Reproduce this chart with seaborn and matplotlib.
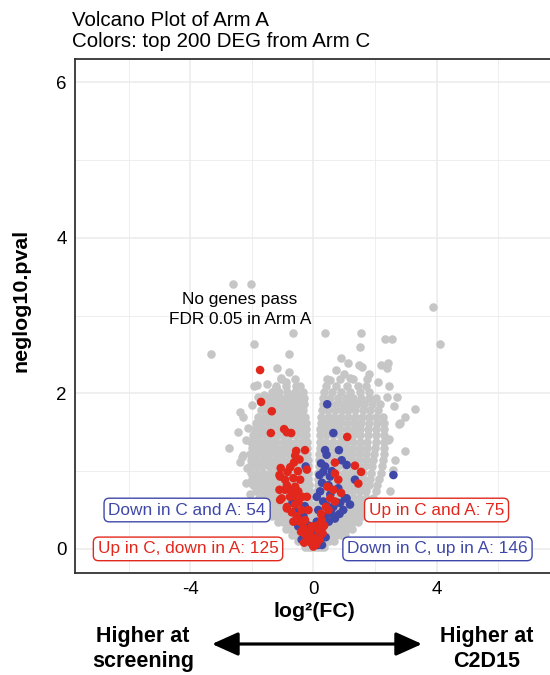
import matplotlib
matplotlib.use("Agg")
import matplotlib.pyplot as plt
import pandas as pd
import seaborn as sns
from matplotlib.patches import FancyArrowPatch
from matplotlib.ticker import FixedLocator

# ---------------- data ----------------
title_lines = ["Volcano Plot of Arm A", "Colors: top 200 DEG from Arm C"]
x_ticks = [-4, 0, 4]
y_ticks = [0, 2, 4, 6]
x_minor = [-6, -2, 2, 6]
y_minor = [1, 3, 5]

# dense grey cloud, one list of logFC values per -log10(p) level
grey_row_y = [0.03, 0.10, 0.18, 0.26, 0.34, 0.42, 0.50, 0.58, 0.66, 0.74,
              0.82, 0.90, 0.98, 1.06, 1.14, 1.22, 1.30, 1.38, 1.46, 1.54,
              1.62, 1.70, 1.78, 1.86, 1.94, 2.02, 2.10, 2.18]
grey_row_x = [
    [-0.28, -0.17, -0.07, 0.04, 0.14, 0.25, 0.34],
    [-0.5, -0.38, -0.26, -0.14, -0.05, 0.06, 0.16, 0.28, 0.4, 0.52, 0.66],
    [-0.7, -0.56, -0.42, -0.29, -0.16, -0.06, 0.07, 0.18, 0.31, 0.45, 0.6, 0.75, 0.9, 1.03],
    [-0.9, -0.75, -0.6, -0.45, -0.31, -0.18, -0.07, 0.08, 0.2, 0.34, 0.49, 0.64, 0.8, 0.95, 1.1, 1.24],
    [-1.14, -0.98, -0.82, -0.66, -0.5, -0.35, -0.2, -0.08, 0.08, 0.21, 0.36, 0.52, 0.68, 0.84, 1.0, 1.16, 1.3, 1.44],
    [-1.35, -1.18, -1.01, -0.84, -0.67, -0.5, -0.35, -0.2, -0.09, 0.09, 0.22, 0.38, 0.55, 0.72, 0.89, 1.06, 1.22, 1.38, 1.58],
    [-1.5, -1.32, -1.14, -0.96, -0.78, -0.6, -0.42, -0.26, -0.1, 0.1, 0.25, 0.42, 0.6, 0.78, 0.96, 1.14, 1.32, 1.5, 1.74],
    [-1.65, -1.46, -1.27, -1.08, -0.89, -0.7, -0.51, -0.33, -0.12, 0.11, 0.27, 0.45, 0.64, 0.83, 1.02, 1.21, 1.4, 1.6, 1.84],
    [-1.75, -1.55, -1.35, -1.15, -0.95, -0.75, -0.56, -0.38, -0.13, 0.12, 0.29, 0.48, 0.68, 0.88, 1.08, 1.28, 1.48, 1.7, 1.94],
    [-1.85, -1.65, -1.45, -1.25, -1.05, -0.85, -0.65, -0.45, -0.27, -0.14, 0.13, 0.3, 0.5, 0.7, 0.9, 1.1, 1.3, 1.5, 1.72, 2.04],
    [-1.95, -1.74, -1.53, -1.32, -1.11, -0.9, -0.7, -0.5, -0.32, -0.15, 0.14, 0.32, 0.52, 0.73, 0.94, 1.15, 1.36, 1.57, 1.8, 2.08],
    [-2.0, -1.79, -1.58, -1.37, -1.16, -0.95, -0.74, -0.54, -0.35, -0.16, 0.15, 0.33, 0.54, 0.75, 0.96, 1.17, 1.38, 1.6, 1.85, 2.14],
    [-2.04, -1.83, -1.62, -1.41, -1.2, -0.99, -0.78, -0.57, -0.37, -0.17, 0.16, 0.35, 0.56, 0.77, 0.98, 1.19, 1.4, 1.62, 1.88, 2.2],
    [-2.05, -1.86, -1.66, -1.45, -1.24, -1.03, -0.82, -0.6, -0.39, -0.18, 0.17, 0.37, 0.58, 0.8, 1.02, 1.24, 1.46, 1.68, 1.92, 2.22],
    [-2.02, -1.82, -1.61, -1.4, -1.19, -0.98, -0.77, -0.56, -0.36, -0.19, 0.18, 0.38, 0.6, 0.82, 1.04, 1.26, 1.48, 1.7, 1.95, 2.25],
    [-2.05, -1.85, -1.64, -1.43, -1.22, -1.01, -0.8, -0.59, -0.39, -0.2, 0.19, 0.39, 0.61, 0.83, 1.05, 1.27, 1.49, 1.72, 1.98, 2.28],
    [-2.0, -1.8, -1.6, -1.4, -1.2, -1.0, -0.8, -0.6, -0.41, -0.21, 0.2, 0.4, 0.62, 0.84, 1.06, 1.28, 1.5, 1.73, 2.0, 2.3],
    [-2.04, -1.83, -1.62, -1.41, -1.2, -0.99, -0.78, -0.57, -0.38, -0.22, 0.21, 0.41, 0.63, 0.85, 1.07, 1.29, 1.51, 1.75, 2.02, 2.3],
    [-1.95, -1.75, -1.55, -1.35, -1.15, -0.95, -0.75, -0.55, -0.38, -0.23, 0.22, 0.42, 0.64, 0.86, 1.08, 1.3, 1.52, 1.76, 2.03, 2.28],
    [-1.9, -1.7, -1.5, -1.3, -1.1, -0.9, -0.7, -0.52, -0.37, -0.24, 0.23, 0.43, 0.65, 0.87, 1.09, 1.31, 1.53, 1.78, 2.05, 2.3],
    [-1.85, -1.65, -1.45, -1.25, -1.05, -0.85, -0.66, -0.49, -0.36, -0.25, 0.24, 0.44, 0.66, 0.88, 1.1, 1.32, 1.55, 1.8, 2.06, 2.28],
    [-1.8, -1.58, -1.36, -1.14, -0.94, -0.76, -0.58, -0.42, -0.27, 0.26, 0.46, 0.68, 0.9, 1.12, 1.34, 1.57, 1.82, 2.05, 2.25],
    [-1.7, -1.48, -1.26, -1.05, -0.86, -0.68, -0.5, -0.33, 0.28, 0.48, 0.7, 0.92, 1.14, 1.36, 1.6, 1.85, 2.1],
    [-1.62, -1.4, -1.18, -0.98, -0.78, -0.6, -0.42, -0.29, 0.3, 0.5, 0.72, 0.95, 1.18, 1.42, 1.65, 1.9, 2.15],
    [-1.5, -1.28, -1.08, -0.88, -0.7, -0.5, -0.3, 0.32, 0.55, 0.8, 1.05, 1.3, 1.56, 1.8, 2.05],
    [-1.35, -1.1, -0.85, -0.6, -0.35, 0.35, 0.6, 0.9, 1.2, 1.5, 1.8],
    [-1.2, -0.9, -0.55, 0.4, 0.75, 1.1, 1.45, 1.7],
    [-1.05, -0.6, 0.45, 0.85, 1.3, 1.75],
]

# scattered grey genes outside the dense cloud
grey_out_x = [-2.60, -2.02, -0.67, -1.92, -3.33, -0.78, -1.19, -0.78, -1.94, -1.84,
              -1.49, -1.22, -1.60, -0.59, -0.33, -2.74, -2.38, -2.28, -2.12, -2.31,
              -2.15, -2.28, -2.38, -2.20, -2.45, -1.05, -0.90, -0.45, -2.00, -1.80,
              -2.20, -2.05,
              3.90, 4.10, 0.39, 1.54, 2.32, 2.55, 1.53, 1.14, 1.47, 1.58,
              2.20, 2.41, 2.38, 0.74, 1.81, 0.54, 2.71, 3.31, 2.62, 2.98,
              2.79, 2.47, 2.99, 2.65, 2.58, 2.81, 2.43, 2.40, 2.45, 1.00,
              1.20, 2.10, 0.90, 2.50, 2.35]
grey_out_y = [3.41, 3.41, 2.77, 2.64, 2.50, 2.50, 2.33, 2.28, 2.10, 2.11,
              2.12, 2.07, 1.98, 2.00, 1.89, 1.30, 1.76, 1.70, 1.56, 1.18,
              1.04, 1.21, 1.12, 1.40, 1.50, 2.20, 2.15, 2.10, 1.85, 1.95,
              0.85, 0.70,
              3.11, 2.64, 2.78, 2.78, 2.70, 2.70, 2.59, 2.39, 2.37, 2.34,
              2.37, 2.39, 2.32, 2.30, 2.25, 2.17, 1.95, 1.80, 1.84, 1.70,
              1.61, 1.41, 1.26, 1.14, 1.02, 1.62, 1.40, 1.95, 2.10, 2.25,
              2.20, 2.15, 2.45, 0.75, 0.60]

# top 200 DEG from Arm C: up in C (red) and down in C (blue)
red_x = [-1.73, -1.70, -1.35, -1.38, -0.95, -0.86, -0.72, -0.56, -0.59, -0.63,
         -1.06, -0.84, -1.08, -0.92, -0.65, -0.43, -0.86, -0.59, -0.92, -0.49,
         -1.03, -0.76, -0.36, -0.86, -0.59, -0.38, -0.54, -0.27, -0.32, -0.11,
         -0.16, 0.00, -1.10, -1.10, -1.08, -0.86, -0.21, -0.27, -0.21, -0.16,
         -0.05, 1.10, 0.70, 1.35, 1.46, 0.70, 0.81, 0.90, 0.70, 0.49,
         0.27, 0.16, 0.06, 1.55, 0.65, 0.41, -0.45, -0.40, -0.25, -0.30,
         -0.08, 0.10, 0.20, 0.12, 0.30, 0.25, 0.35, -0.65, -0.70, -0.48,
         -0.62, -0.72, -0.50, -0.75, -0.45, 0.55, 0.45]
red_y = [2.30, 1.89, 1.77, 1.49, 1.54, 1.50, 1.49, 1.26, 1.20, 1.11,
         1.04, 0.99, 0.93, 0.89, 0.91, 0.89, 0.82, 0.80, 0.76, 0.74,
         0.65, 0.67, 0.67, 0.54, 0.57, 0.50, 0.42, 0.37, 0.27, 0.21,
         0.12, 0.03, 0.95, 0.76, 0.63, 0.52, 1.02, 1.27, 0.67, 0.50,
         0.29, 1.44, 1.11, 1.07, 0.84, 0.97, 0.89, 0.72, 0.61, 0.50,
         0.37, 0.24, 0.14, 0.99, 0.76, 0.54, 0.35, 0.22, 0.18, 0.08,
         0.08, 0.06, 0.12, 0.30, 0.20, 0.45, 0.30, 0.35, 0.47, 0.60,
         0.68, 0.75, 1.00, 1.05, 1.15, 0.65, 0.80]
blue_x = [0.45, 0.65, 0.38, 0.83, 0.43, 0.92, 1.08, 0.38, 1.35, 0.54,
          0.49, 2.60, 1.03, 0.81, 0.22, 0.32, 0.97, 0.65, 0.16, 0.38,
          0.70, 0.11, 0.32, 0.06, 0.22, -0.11, -0.25, -0.68, 0.11, -0.59,
          -0.32, -0.49, -0.21, -0.38, -0.05, 0.32, 1.19, 0.87, 1.08, 0.50,
          0.45, 0.60, 0.28, 0.20, 0.55, 0.85, 0.15, 0.05, -0.15, -0.28,
          0.25, 0.60, 0.75, 0.40, 0.28]
blue_y = [1.86, 1.49, 1.27, 1.27, 1.21, 1.14, 1.08, 1.06, 0.89, 0.93,
          0.82, 0.95, 0.65, 0.78, 0.74, 0.61, 0.50, 0.54, 0.50, 0.42,
          0.39, 0.35, 0.29, 0.20, 0.16, 0.12, 1.06, 0.59, 0.67, 0.48,
          0.42, 0.29, 0.21, 0.12, 0.07, 0.99, 0.57, 0.59, 0.65, 0.35,
          0.55, 0.45, 0.85, 0.95, 0.70, 0.45, 0.05, 0.10, 0.30, 0.55,
          1.10, 1.00, 0.60, 0.15, 0.05]

label_text = ["Down in C and A: 54", "Up in C, down in A: 125",
              "Up in C and A: 75", "Down in C, up in A: 146"]
label_x = [-4.1, -4.07, 4.0, 4.03]
label_y = [0.5, 0.0, 0.5, 0.0]
label_group = ["down", "up", "up", "down"]

note_lines = ["No genes pass", "FDR 0.05 in Arm A"]

# ---------------- styling ----------------
GREY = "#C6C6C6"
RED = "#E2281C"
BLUE = "#3F48A8"
palette = {"up": RED, "down": BLUE}
DOT = 38

sns.set_style("white")
plt.rcParams["font.family"] = ["Liberation Sans", "DejaVu Sans"]
plt.rcParams["text.color"] = "black"
plt.rcParams["axes.labelcolor"] = "black"

gx, gy = [], []
for yv, xs in zip(grey_row_y, grey_row_x):
    gx.extend(xs)
    gy.extend([yv] * len(xs))
gx.extend(grey_out_x)
gy.extend(grey_out_y)
df_grey = pd.DataFrame({"logFC": gx, "neglog10.pval": gy})

df_col = pd.DataFrame({
    "logFC": blue_x + red_x,
    "neglog10.pval": blue_y + red_y,
    "group": ["down"] * len(blue_x) + ["up"] * len(red_x),
})

W, H = 550, 675
fig = plt.figure(figsize=(W / 100, H / 100), dpi=100)
ax = fig.add_axes([75 / W, 1 - 573 / H, (550.5 - 75) / W, (573 - 59) / H])

sns.scatterplot(data=df_grey, x="logFC", y="neglog10.pval", color=GREY,
                s=DOT, linewidth=0, ax=ax, zorder=2)
sns.scatterplot(data=df_col, x="logFC", y="neglog10.pval", hue="group",
                palette=palette, s=DOT, linewidth=0, ax=ax, zorder=3,
                legend=False)

ax.set_xlim(-7.74, 7.70)
ax.set_ylim(-0.31, 6.30)
ax.set_xticks(x_ticks)
ax.set_xticklabels([str(t) for t in x_ticks])
ax.set_yticks(y_ticks)
ax.set_yticklabels([str(t) for t in y_ticks])
ax.xaxis.set_minor_locator(FixedLocator(x_minor))
ax.yaxis.set_minor_locator(FixedLocator(y_minor))
ax.set_axisbelow(True)
ax.grid(which="major", color="#EBEBEB", lw=1.1, zorder=0)
ax.grid(which="minor", color="#EBEBEB", lw=0.6, zorder=0)
for sp in ax.spines.values():
    sp.set_color("#333333")
    sp.set_linewidth(1.3)
ax.tick_params(which="major", direction="out", length=3.5, width=1,
               color="#333333", labelsize=13.5, labelcolor="black", pad=2.5)
ax.tick_params(which="minor", length=0)
ax.set_xlabel("")
ax.set_ylabel("")

for t, x, y, g in zip(label_text, label_x, label_y, label_group):
    c = palette[g]
    ax.text(x, y, t, color=c, ha="center", va="center", fontsize=12.4,
            zorder=5,
            bbox=dict(boxstyle="round,pad=0.25,rounding_size=0.3",
                      fc="white", ec=c, lw=1.0))

ax.text(-2.38, 3.15, note_lines[0], ha="center", va="baseline",
        fontsize=12.4, color="black", zorder=5)
ax.text(-2.38, 2.89, note_lines[1], ha="center", va="baseline",
        fontsize=12.4, color="black", zorder=5)

# titles and axis titles
fig.text(72 / W, 1 - 25.7 / H, title_lines[0], ha="left", va="baseline",
         fontsize=14.8, color="black")
fig.text(72 / W, 1 - 46.7 / H, title_lines[1], ha="left", va="baseline",
         fontsize=14.8, color="black")
fig.text(314 / W, 1 - 617 / H, "log²(FC)", ha="center", va="baseline",
         fontsize=15.4, fontweight="bold", color="black")
fig.text(21.5 / W, 1 - 300 / H, "neglog10.pval", ha="center", va="center",
         rotation=90, fontsize=15.4, fontweight="bold", color="black")

# direction annotation below the plot
for cx, lines in ((143, ["Higher at", "screening"]), (487, ["Higher at", "C2D15"])):
    fig.text(cx / W, 1 - 642 / H, lines[0], ha="center", va="baseline",
             fontsize=15.5, fontweight="bold", color="black")
    fig.text(cx / W, 1 - 667 / H, lines[1], ha="center", va="baseline",
             fontsize=15.5, fontweight="bold", color="black")
arrow = FancyArrowPatch((212 / W, 1 - 644 / H), (422 / W, 1 - 644 / H),
                        transform=fig.transFigure,
                        arrowstyle="<|-|>,head_length=16,head_width=7.2",
                        mutation_scale=1, lw=2.3, color="black",
                        shrinkA=0, shrinkB=0)
fig.add_artist(arrow)

fig.savefig("out.png", dpi=100)
